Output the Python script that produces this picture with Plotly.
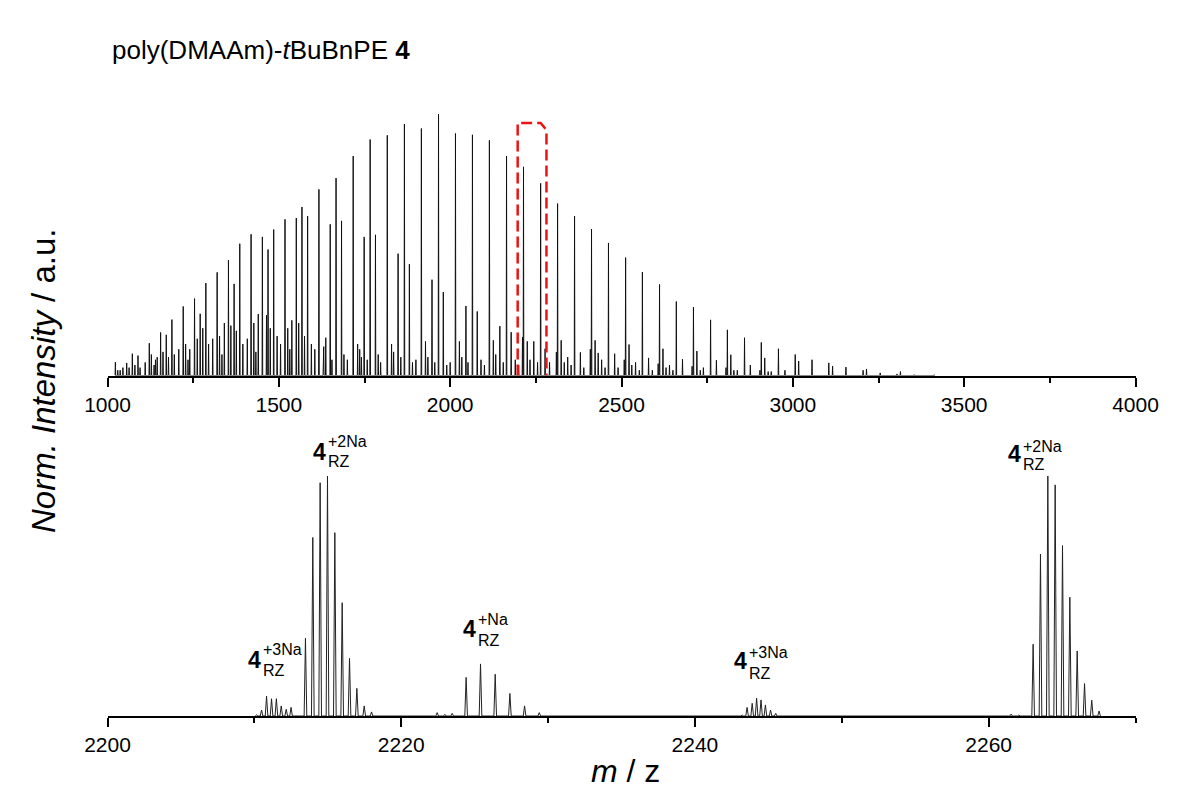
import plotly.graph_objects as go

# ---------------- data: overview spectrum (m/z, normalised intensity) ----------------
mz_2na = [1023, 1072.5, 1122, 1171.5, 1221, 1270.5, 1320, 1369.5, 1419, 1468.5,
          1518, 1567.5, 1617, 1667, 1717, 1766.5, 1816.5, 1866.5, 1916, 1966,
          2015.5, 2065, 2114.5, 2164.5, 2214, 2264, 2313.5, 2363, 2412.5, 2462,
          2512, 2561, 2611, 2660, 2710, 2760, 2809, 2859, 2908, 2958,
          3007, 3056, 3105, 3155, 3205, 3255, 3304, 3354]
int_2na = [0.051, 0.083, 0.123, 0.155, 0.263, 0.235, 0.393, 0.349, 0.538, 0.48,
           0.595, 0.642, 0.709, 0.752, 0.836, 0.899, 0.915, 0.958, 0.941, 0.996,
           0.922, 0.917, 0.896, 0.836, 0.795, 0.732, 0.655, 0.607, 0.558, 0.505,
           0.449, 0.394, 0.347, 0.282, 0.261, 0.212, 0.174, 0.144, 0.126, 0.102,
           0.08, 0.06, 0.048, 0.032, 0.02, 0.01, 0.006, 0.003]

mz_3na = [1056, 1089, 1155, 1188, 1254, 1287, 1353, 1386, 1452, 1485,
          1551, 1584, 1650, 1683, 1749, 1782, 1848, 1881, 1947, 1980,
          2046, 2079, 2145, 2178, 2211, 2244, 2277, 2310, 2343, 2380,
          2409, 2442, 2480, 2508, 2541, 2579, 2607, 2640, 2678, 2706,
          2739, 2777, 2805, 2838, 2876, 2904, 2937, 2977]
int_3na = [0.048, 0.076, 0.164, 0.213, 0.293, 0.352, 0.439, 0.502, 0.528, 0.556,
           0.600, 0.607, 0.576, 0.589, 0.528, 0.536, 0.464, 0.424, 0.365, 0.318,
           0.265, 0.244, 0.188, 0.165, 0.146, 0.13, 0.102, 0.089, 0.07, 0.088,
           0.1, 0.06, 0.083, 0.06, 0.05, 0.067, 0.045, 0.04, 0.062, 0.035,
           0.03, 0.058, 0.03, 0.02, 0.04, 0.02, 0.015, 0.02]

mz_1na = [1037, 1136, 1235, 1334, 1433, 1532, 1631, 1730, 1829, 1928,
          2027, 2126, 2225, 2324, 2423, 2522, 2621, 2720, 2819, 2918,
          3017, 3116, 3215, 3314, 3413]
int_1na = [0.02, 0.04, 0.06, 0.08, 0.09, 0.10, 0.11, 0.12, 0.12, 0.13,
           0.13, 0.134, 0.13, 0.134, 0.134, 0.118, 0.102, 0.093, 0.079, 0.067,
           0.055, 0.036, 0.025, 0.015, 0.003]

mz_minor = [1030, 1045, 1063, 1080, 1095, 1110, 1128, 1140, 1145, 1162,
            1178, 1195, 1208, 1228, 1240, 1262, 1278, 1295, 1307, 1327,
            1341, 1360, 1376, 1395, 1408, 1427, 1440, 1464, 1475, 1495,
            1505, 1526, 1538, 1558, 1575, 1595, 1605, 1630, 1637, 1655,
            1690, 1700, 1736, 1741, 1758, 1790, 1797, 1835, 1856, 1890,
            1900, 1935, 1955, 1990, 2000, 2034, 2052, 2090, 2100, 2133,
            2155, 2190, 2200, 2233, 2255, 2290, 2333, 2353, 2390, 2432,
            2452, 2490, 2530, 2552, 2590, 2630, 2650, 2730, 2828, 2928]
int_minor = [0.02, 0.03, 0.03, 0.04, 0.03, 0.05, 0.08, 0.06, 0.07, 0.09,
             0.07, 0.08, 0.10, 0.12, 0.10, 0.14, 0.18, 0.12, 0.14, 0.15,
             0.20, 0.19, 0.17, 0.12, 0.14, 0.20, 0.234, 0.23, 0.18, 0.15,
             0.12, 0.18, 0.21, 0.20, 0.15, 0.12, 0.10, 0.09, 0.144, 0.06,
             0.08, 0.06, 0.10, 0.07, 0.06, 0.08, 0.05, 0.09, 0.07, 0.05,
             0.06, 0.07, 0.05, 0.04, 0.05, 0.07, 0.05, 0.06, 0.04, 0.08,
             0.05, 0.06, 0.04, 0.06, 0.05, 0.05, 0.05, 0.04, 0.03, 0.086,
             0.03, 0.03, 0.04, 0.02, 0.02, 0.03, 0.02, 0.02, 0.02, 0.015]

# ---------------- data: zoomed region 2200-2270 (isotope patterns) ----------------
mz_z3a = [2210.15, 2210.49, 2210.83, 2211.17, 2211.5, 2211.83, 2212.17, 2212.5]
int_z3a = [0.005, 0.025, 0.083, 0.072, 0.072, 0.042, 0.028, 0.036]
mz_z2a = [2213.48, 2213.98, 2214.48, 2214.98, 2215.48, 2215.98, 2216.48, 2216.98, 2217.48, 2217.98]
int_z2a = [0.324, 0.744, 0.972, 1.0, 0.764, 0.472, 0.24, 0.115, 0.042, 0.017]
mz_z1 = [2222.45, 2222.97, 2223.47, 2223.97, 2224.42, 2225.4, 2226.4, 2227.4, 2228.4, 2229.4, 2233.6, 2233.9]
int_z1 = [0.014, 0.007, 0.011, 0.003, 0.161, 0.217, 0.174, 0.094, 0.042, 0.014, 0.003, 0.003]
mz_z3b = [2243.22, 2243.55, 2243.9, 2244.2, 2244.5, 2244.8, 2245.15, 2245.5]
int_z3b = [0.004, 0.036, 0.053, 0.074, 0.067, 0.046, 0.025, 0.011]
mz_z2b = [2261.53, 2262.05, 2263.03, 2263.53, 2264.03, 2264.53, 2265.03, 2265.53, 2266.03, 2266.53, 2267.02, 2267.52]
int_z2b = [0.008, 0.004, 0.299, 0.675, 1.0, 0.963, 0.71, 0.495, 0.271, 0.135, 0.066, 0.021]

# annotation labels for zoomed region: (m/z of label, adduct text)
label_mz = [2214.98, 2210.49, 2225.13, 2243.58, 2262.24]
label_sup = ["+2Na", "+3Na", "+Na", "+3Na", "+2Na"]

top_ticks = [1000, 1500, 2000, 2500, 3000, 3500, 4000]
bottom_ticks = [2200, 2220, 2240, 2260]

# ---------------- helpers ----------------
OFF = 8                      # default page body margin
W, H = 1181 - 2 * OFF, 796 - 2 * OFF
FONT = "Liberation Sans, Arial, Helvetica, sans-serif"


def xp(px):
    return (px - OFF) / W


def yp(py):
    return 1 - (py - OFF) / H


def stick_profile(mzs, ints, hw):
    pairs = sorted(zip(mzs, ints))
    xs, ys = [], []
    for m, h in pairs:
        xs += [m - hw, m, m + hw]
        ys += [0, h, 0]
    return xs, ys


top_mz = mz_2na + mz_3na + mz_1na + mz_minor
top_int = int_2na + int_3na + int_1na + int_minor
tx, ty = stick_profile(top_mz, top_int, 0.9)

bot_mz = mz_z3a + mz_z2a + mz_z1 + mz_z3b + mz_z2b
bot_int = int_z3a + int_z2a + int_z1 + int_z3b + int_z2b
bx, by = stick_profile(bot_mz, bot_int, 0.09)

fig = go.Figure()
fig.add_trace(go.Scatter(x=tx, y=ty, mode="lines", line=dict(color="#111111", width=1),
                         xaxis="x", yaxis="y", hoverinfo="skip", showlegend=False))
fig.add_trace(go.Scatter(x=bx, y=by, mode="lines", line=dict(color="#222222", width=1),
                         xaxis="x2", yaxis="y2", hoverinfo="skip", showlegend=False))

xdom = [xp(107.5), xp(1135.5)]
ytop_dom = [yp(375.5), yp(113)]
ybot_dom = [yp(716), yp(476)]

axis_common = dict(
    showline=True, linecolor="black", linewidth=2,
    ticks="outside", ticklen=9, tickwidth=2, tickcolor="black",
    showgrid=False, zeroline=False, automargin=False,
    tickfont=dict(family=FONT, size=21, color="black"),
    fixedrange=True,
)

fig.update_layout(
    width=W, height=H,
    margin=dict(l=0, r=0, t=0, b=0),
    template="none",
    paper_bgcolor="white", plot_bgcolor="white",
    showlegend=False,
    xaxis=dict(domain=xdom, range=[1000, 4000], anchor="y",
               tickmode="array", tickvals=top_ticks, ticktext=[str(t) for t in top_ticks],
               minor=dict(ticks="outside", ticklen=5, tickwidth=2, tickcolor="black",
                          tickmode="linear", tick0=1000, dtick=250),
               **axis_common),
    yaxis=dict(domain=ytop_dom, range=[0, 1.0], visible=False, fixedrange=True),
    xaxis2=dict(domain=xdom, range=[2200, 2270], anchor="y2",
                tickmode="array", tickvals=bottom_ticks, ticktext=[str(t) for t in bottom_ticks],
                minor=dict(ticks="outside", ticklen=5, tickwidth=2, tickcolor="black",
                           tickmode="linear", tick0=2200, dtick=10),
                **axis_common),
    yaxis2=dict(domain=ybot_dom, range=[0, 1.0], visible=False, fixedrange=True),
)

# red dashed box marking the zoomed region
box_x0, box_x1, box_top = 2197, 2281, 0.962
fig.add_shape(type="path", xref="x", yref="y",
              path=f"M {box_x0},0 L {box_x0},{box_top} L {box_x1 - 17},{box_top} "
                   f"L {box_x1},{box_top - 0.027} L {box_x1},0",
              line=dict(color="#ee1111", width=2.5, dash="11px,5px"), layer="above")

# title
fig.add_annotation(text="poly(DMAAm)-<i>t</i>BuBnPE <b>4</b>", xref="paper", yref="paper",
                   x=xp(110), y=yp(50), xanchor="left", yanchor="middle", showarrow=False,
                   font=dict(family=FONT, size=26, color="black"))
# y axis title
fig.add_annotation(text="<i>Norm. Intensity</i> / a.u.", xref="paper", yref="paper",
                   x=xp(43), y=yp(381), xanchor="center", yanchor="middle", textangle=-90,
                   showarrow=False, font=dict(family=FONT, size=33, color="black"))
# x axis title
fig.add_annotation(text="<i>m</i> / z", xref="paper", yref="paper",
                   x=xp(625), y=yp(771), xanchor="center", yanchor="middle",
                   showarrow=False, borderpad=0, font=dict(family=FONT, size=32, color="black"))

# peak labels (4 with stacked super/subscript)
label_py = [(452, 441, 461), (660, 649, 670), (629, 619, 640), (661, 652, 673), (454, 446, 464)]
for m, sup, (p4, psup, psub) in zip(label_mz, label_sup, label_py):
    fig.add_annotation(text="<b>4</b>", xref="x2", yref="paper", x=m, y=yp(p4),
                       xanchor="right", yanchor="middle", showarrow=False, borderpad=0,
                       font=dict(family=FONT, size=23, color="black"))
    fig.add_annotation(text=sup, xref="x2", yref="paper", x=m, y=yp(psup),
                       xanchor="left", yanchor="middle", showarrow=False, borderpad=0,
                       font=dict(family=FONT, size=16, color="black"))
    fig.add_annotation(text="RZ", xref="x2", yref="paper", x=m, y=yp(psub),
                       xanchor="left", yanchor="middle", showarrow=False, borderpad=0,
                       font=dict(family=FONT, size=16, color="black"))

fig.write_html("out.html")
